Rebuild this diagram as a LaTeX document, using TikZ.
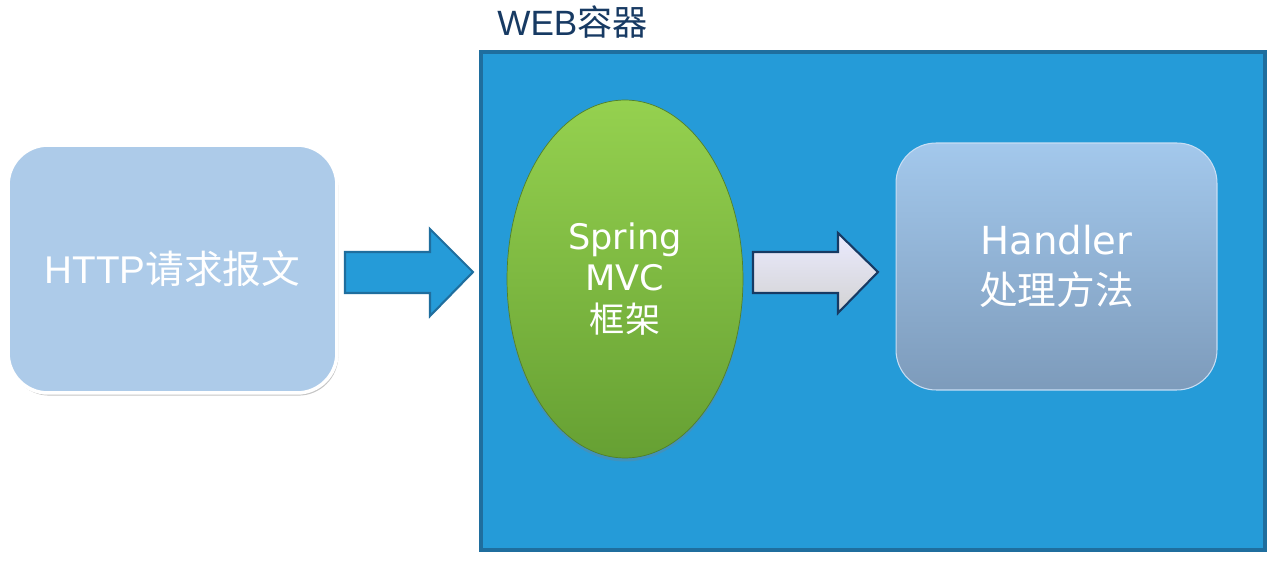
\documentclass[tikz,border=0pt]{standalone}
\usepackage{fontspec}
\setmainfont{Liberation Sans}
\newfontfamily\cjk{Noto Sans CJK SC}
\newfontfamily\verd{DejaVu Sans}
\usepackage{tikz}
\usetikzlibrary{shapes.geometric, arrows, positioning, shadows}
\definecolor{webblue}{HTML}{259BD8}
\definecolor{webedge}{HTML}{1F6E9E}
\definecolor{navy}{HTML}{173A63}
\definecolor{reqblue}{HTML}{ADCBE9}
\definecolor{hdltop}{HTML}{A3C8EC}
\definecolor{hdlbot}{HTML}{7D9BBB}
\definecolor{grntop}{HTML}{95D14F}
\definecolor{grnbot}{HTML}{66A033}
\tikzstyle{container}=
[
	rectangle
	,minimum width=15.68cm
	,minimum height=9.96cm
	,draw=webedge
	,line width=2pt
	,fill=webblue
]
\tikzstyle{request}=
[
	rectangle
	,rounded corners=0.8cm
	,minimum width=6.58cm
	,minimum height=4.96cm
	,draw=white
	,line width=2pt
	,fill=reqblue
	,drop shadow={opacity=0.45,shadow xshift=0.8pt,shadow yshift=-1.5pt}
	,text=white
	,font=\fontsize{22}{26}\selectfont
]
\tikzstyle{framework}=
[
	draw=grnbot!80!black
	,ellipse
	,inner sep=0pt
	,minimum width=4.72cm
	,minimum height=7.16cm
	,top color=grntop
	,bottom color=grnbot
	,drop shadow={opacity=0.3,shadow xshift=0pt,shadow yshift=-2pt}
	,text=white
	,align=center
	,font=\verd\fontsize{20}{23.8}\selectfont
]
\tikzstyle{handler}=
[
	rectangle
	,rounded corners=0.8cm
	,minimum width=6.42cm
	,minimum height=4.94cm
	,draw=hdltop!60!white
	,line width=0.6pt
	,top color=hdltop
	,bottom color=hdlbot
	,text=white
	,align=center
	,font=\verd\fontsize{22}{28.5}\selectfont
]
\tikzstyle{bluearrow}=[fill=webblue,draw=webedge,line width=1.2pt,line join=miter]
\tikzstyle{grayarrow}=[top color=white!92!blue,bottom color=gray!35!white,draw=navy,line width=1.2pt,line join=miter]

\begin{document}
\begin{tikzpicture}[x=0.02cm,y=-0.02cm]
\useasboundingbox[fill=white](0,0) rectangle (1269,567);
\node(web)[container] at (873,301) {};
\node(title)[anchor=west,text=navy,font=\fontsize{20}{24}\selectfont,inner sep=0pt] at (497,22) {WEB{\cjk 容器}};
\node(req)[request] at (172.5,269) {HTTP{\cjk 请求报文}};
\node(mvc)[framework] at (625,279) {Spring\\MVC\\{\cjk 框架}};
\node(hdl)[handler] at (1056.5,266.5) {\rule{0pt}{0.25cm}Handler\\{\cjk 处理方法}};

\draw[bluearrow](345,252)--(430,252)--(430,229)--(473,272)--(430,316)--(430,293)--(345,293)--cycle;
\draw[grayarrow](753,252)--(838,252)--(838,233)--(878,272)--(838,313)--(838,293)--(753,293)--cycle;

\end{tikzpicture}
\end{document}
